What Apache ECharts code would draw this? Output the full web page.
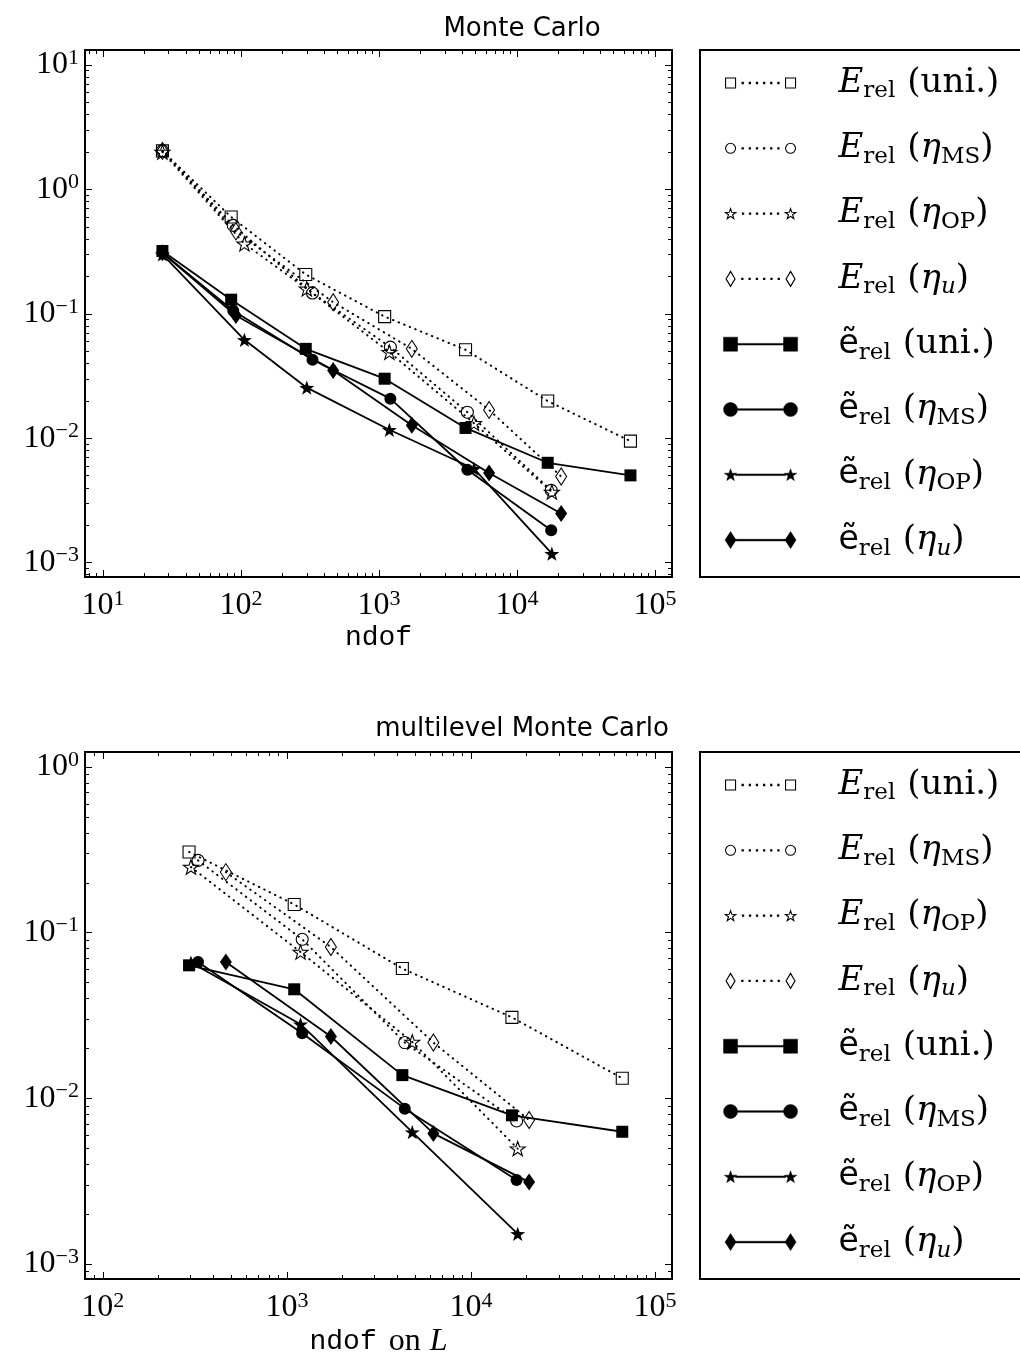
<!DOCTYPE html>
<html>
<head>
<meta charset="utf-8">
<title>Monte Carlo / multilevel Monte Carlo</title>
<script src="https://cdn.jsdelivr.net/npm/echarts@6/dist/echarts.min.js"></script>
<style>
  html, body { margin: 0; padding: 0; background: #fff; }
  #chart { width: 1020px; height: 1356px; }
</style>
</head>
<body>
<div id="chart"></div>
<script>
// ---------- Monte Carlo: ndof per refinement step ----------
const mcNdofUni = [27, 85, 295, 1100, 4240, 16700, 66400];
const mcNdofMS  = [27, 88, 330, 1210, 4370, 17700];
const mcNdofOP  = [27, 106, 300, 1190, 4880, 17900];
const mcNdofU   = [27, 92, 466, 1730, 6280, 20900];
// E_rel (dotted, open markers)
const mcEUni = [2.04, 0.60, 0.207, 0.095, 0.0514, 0.0199, 0.00948];
const mcEMS  = [2.04, 0.514, 0.147, 0.054, 0.0162, 0.00381];
const mcEOP  = [2.0, 0.366, 0.159, 0.0492, 0.0132, 0.0037];
const mcEU   = [2.04, 0.46, 0.124, 0.0523, 0.0169, 0.00493];
// e~_rel (solid, filled markers)
const mcTUni = [0.32, 0.130, 0.0523, 0.0301, 0.0121, 0.00635, 0.00503];
const mcTMS  = [0.31, 0.106, 0.0428, 0.0208, 0.00558, 0.00182];
const mcTOP  = [0.30, 0.0618, 0.0255, 0.0117, 0.00569, 0.00118];
const mcTU   = [0.31, 0.097, 0.0351, 0.0127, 0.00525, 0.00248];

// ---------- multilevel Monte Carlo: ndof on the finest level L ----------
const mlNdofUni = [294, 1096, 4240, 16700, 66400];
const mlNdofMS  = [329, 1211, 4370, 17700];
const mlNdofOP  = [301, 1186, 4800, 17950];
const mlNdofU   = [466, 1734, 6250, 20700];
const mlEUni = [0.307, 0.148, 0.0607, 0.0308, 0.0132];
const mlEMS  = [0.273, 0.0912, 0.0217, 0.0073];
const mlEOP  = [0.249, 0.0764, 0.0219, 0.00497];
const mlEU   = [0.232, 0.0819, 0.0217, 0.0074];
const mlTUni = [0.0635, 0.0455, 0.0138, 0.00789, 0.00628];
const mlTMS  = [0.0665, 0.0247, 0.00866, 0.00321];
const mlTOP  = [0.066, 0.028, 0.00625, 0.00152];
const mlTU   = [0.0665, 0.0236, 0.00614, 0.00312];

// ---------- axis ranges and major ticks ----------
const mcXRange = [7.42, 132800];
const mcYRange = [7.67e-4, 13.2];
const mlXRange = [80, 123700];
const mlYRange = [8.11e-4, 1.232];
const mcXTicks = [1e1, 1e2, 1e3, 1e4, 1e5];
const mcYTicks = [1e-3, 1e-2, 1e-1, 1e0, 1e1];
const mlXTicks = [1e2, 1e3, 1e4, 1e5];
const mlYTicks = [1e-3, 1e-2, 1e-1, 1e0];

// ---------- fonts ----------
const SERIF = '"Liberation Serif", "DejaVu Serif", serif';
const WIDE_SERIF = '"DejaVu Serif", "Liberation Serif", serif';
const SANS = '"DejaVu Sans", "Noto Sans", sans-serif';
const MONO = '"Liberation Mono", "DejaVu Sans Mono", monospace';

// 2..9 x 10^k inside a range (log minor ticks)
function minorValues(range) {
  const out = [];
  const k0 = Math.floor(Math.log10(range[0]));
  const k1 = Math.ceil(Math.log10(range[1]));
  for (let k = k0; k <= k1; k++) {
    for (let m = 2; m <= 9; m++) {
      const v = m * Math.pow(10, k);
      if (v >= range[0] && v <= range[1]) out.push(v);
    }
  }
  return out;
}

// "10^k" as rich text
function powLabel(v) {
  const k = Math.round(Math.log10(v));
  return '{b|10}{s|' + (k < 0 ? '\u2212' + (-k) : String(k)) + '}';
}
const tickRich = {
  b: { fontFamily: SERIF, fontSize: 32, lineHeight: 36, verticalAlign: 'middle', color: '#000' },
  s: { fontFamily: SERIF, fontSize: 22, lineHeight: 16, verticalAlign: 'top', color: '#000' }
};

function logAxis(gridIndex, position, range, values, len, labels, extra) {
  const isX = position === 'top' || position === 'bottom';
  return Object.assign({
    type: 'log', logBase: 10, gridIndex: gridIndex, position: position,
    min: range[0], max: range[1],
    axisLine: { show: false, onZero: false },
    splitLine: { show: false },
    minorTick: { show: false },
    minorSplitLine: { show: false },
    axisPointer: { show: false },
    silent: true,
    axisTick: { show: true, inside: true, length: len, customValues: values,
                lineStyle: { color: '#000', width: 1 } },
    axisLabel: labels ? {
      show: true, customValues: values, formatter: powLabel, rich: tickRich,
      margin: isX ? 11 : 6, color: '#000'
    } : { show: false }
  }, extra || {});
}

const xAxes = [];
const yAxes = [];
function addFrameAxes(g, xr, yr, xMaj, yMaj, nameOpts) {
  const xi = xAxes.length, yi = yAxes.length;
  xAxes.push(
    logAxis(g, 'bottom', xr, xMaj, 7, true, nameOpts),
    logAxis(g, 'bottom', xr, minorValues(xr), 4, false),
    logAxis(g, 'top', xr, xMaj, 7, false),
    logAxis(g, 'top', xr, minorValues(xr), 4, false)
  );
  yAxes.push(
    logAxis(g, 'left', yr, yMaj, 7, true),
    logAxis(g, 'left', yr, minorValues(yr), 4, false),
    logAxis(g, 'right', yr, yMaj, 7, false),
    logAxis(g, 'right', yr, minorValues(yr), 4, false)
  );
  return { xi: xi, yi: yi };
}

const mcAx = addFrameAxes(0, mcXRange, mcYRange, mcXTicks, mcYTicks, {
  name: 'ndof', nameLocation: 'middle', nameGap: 47,
  nameTextStyle: { fontFamily: MONO, fontSize: 28, color: '#000' }
});
const mlAx = addFrameAxes(1, mlXRange, mlYRange, mlXTicks, mlYTicks, {
  name: '{m|ndof}{r|on}{i|L}', nameLocation: 'middle', nameGap: 47,
  nameTextStyle: {
    color: '#000',
    rich: {
      m: { fontFamily: MONO, fontSize: 28, color: '#000' },
      r: { fontFamily: SERIF, fontSize: 32, color: '#000', padding: [0, 9, 0, 12] },
      i: { fontFamily: SERIF, fontSize: 32, fontStyle: 'italic', color: '#000' }
    }
  }
});

// ---------- markers ----------
function starPath(cx, cy, r) {
  let d = '';
  for (let i = 0; i < 10; i++) {
    const rr = i % 2 === 0 ? r : r * 0.4;
    const a = -Math.PI / 2 + i * Math.PI / 5;
    d += (i === 0 ? 'M' : 'L') + (cx + rr * Math.cos(a)).toFixed(2) + ' ' + (cy + rr * Math.sin(a)).toFixed(2);
  }
  return d + 'Z';
}
const STAR = 'path://' + starPath(0, 0, 10);

const OPEN = { color: 'rgba(0,0,0,0)', borderColor: '#000', borderWidth: 1.1 };
const FILLED = { color: '#000', borderColor: '#000', borderWidth: 0 };
const DOTTED = { color: '#000', width: 2, type: [0.5, 5.5], cap: 'round' };
const SOLID = { color: '#000', width: 1.8, type: 'solid' };

const KINDS = [
  { key: 'Euni', symbol: 'rect', size: 12, item: OPEN, line: DOTTED },
  { key: 'EMS', symbol: 'circle', size: 12, item: OPEN, line: DOTTED },
  { key: 'EOP', symbol: STAR, size: 15, item: OPEN, line: DOTTED },
  { key: 'Eu', symbol: 'diamond', size: [11, 17], item: OPEN, line: DOTTED },
  { key: 'Tuni', symbol: 'rect', size: 12, item: FILLED, line: SOLID },
  { key: 'TMS', symbol: 'circle', size: 12, item: FILLED, line: SOLID },
  { key: 'TOP', symbol: STAR, size: 15, item: FILLED, line: SOLID },
  { key: 'Tu', symbol: 'diamond', size: [12, 17], item: FILLED, line: SOLID }
];

const mcData = {
  Euni: [mcNdofUni, mcEUni], EMS: [mcNdofMS, mcEMS], EOP: [mcNdofOP, mcEOP], Eu: [mcNdofU, mcEU],
  Tuni: [mcNdofUni, mcTUni], TMS: [mcNdofMS, mcTMS], TOP: [mcNdofOP, mcTOP], Tu: [mcNdofU, mcTU]
};
const mlData = {
  Euni: [mlNdofUni, mlEUni], EMS: [mlNdofMS, mlEMS], EOP: [mlNdofOP, mlEOP], Eu: [mlNdofU, mlEU],
  Tuni: [mlNdofUni, mlTUni], TMS: [mlNdofMS, mlTMS], TOP: [mlNdofOP, mlTOP], Tu: [mlNdofU, mlTU]
};

const series = [];
function addSeries(prefix, table, ax) {
  KINDS.forEach(function (k) {
    const xs = table[k.key][0], ys = table[k.key][1];
    series.push({
      type: 'line', name: prefix + ':' + k.key,
      xAxisIndex: ax.xi, yAxisIndex: ax.yi,
      data: xs.map(function (x, i) { return [x, ys[i]]; }),
      symbol: k.symbol, symbolSize: k.size, symbolKeepAspect: true,
      showSymbol: true, showAllSymbol: true,
      itemStyle: k.item, lineStyle: k.line,
      emphasis: { disabled: true }, silent: true, animation: false
    });
  });
}
addSeries('mc', mcData, mcAx);
addSeries('ml', mlData, mlAx);

// ---------- legend (two markers joined by the series line) ----------
const ANCHOR = 'M0 0M76 18';
function sq(cx, cy, h) { return 'M' + (cx - h) + ' ' + (cy - h) + 'H' + (cx + h) + 'V' + (cy + h) + 'H' + (cx - h) + 'Z'; }
function circ(cx, cy, r) { return 'M' + (cx + r) + ' ' + cy + 'A' + r + ' ' + r + ' 0 1 1 ' + (cx - r) + ' ' + cy + 'A' + r + ' ' + r + ' 0 1 1 ' + (cx + r) + ' ' + cy + 'Z'; }
function dia(cx, cy, w, h) { return 'M' + cx + ' ' + (cy - h / 2) + 'L' + (cx + w / 2) + ' ' + cy + 'L' + cx + ' ' + (cy + h / 2) + 'L' + (cx - w / 2) + ' ' + cy + 'Z'; }
function dots(x0, x1, cy) {
  let d = '';
  const n = 6, step = (x1 - x0) / (n + 1);
  for (let i = 1; i <= n; i++) d += sq(+(x0 + i * step).toFixed(2), cy, 0.6);
  return d;
}
function bar(x0, x1, cy, t) { return 'M' + x0 + ' ' + (cy - t / 2) + 'H' + x1 + 'V' + (cy + t / 2) + 'H' + x0 + 'Z'; }
const ICONS = {
  Euni: ANCHOR + sq(8, 9, 5) + dots(13, 63, 9) + sq(68, 9, 5),
  EMS: ANCHOR + circ(8, 9, 5) + dots(13, 63, 9) + circ(68, 9, 5),
  EOP: ANCHOR + starPath(8, 9.5, 5.5) + dots(13.5, 62.5, 9) + starPath(68, 9.5, 5.5),
  Eu: ANCHOR + dia(8, 9, 9, 15) + dots(12.5, 63.5, 9) + dia(68, 9, 9, 15),
  Tuni: ANCHOR + sq(8, 9, 7) + bar(15, 61, 9, 1.6) + sq(68, 9, 7),
  TMS: ANCHOR + circ(8, 9, 7) + bar(15, 61, 9, 1.6) + circ(68, 9, 7),
  TOP: ANCHOR + starPath(8, 9.5, 6.5) + bar(13, 63, 9, 1.6) + starPath(68, 9.5, 6.5),
  Tu: ANCHOR + dia(8, 9, 11, 17) + bar(13, 63, 9, 1.6) + dia(68, 9, 11, 17)
};
const LABELS = {
  Euni: '{E|E}{s|rel}{p|(uni.)}',
  EMS: '{E|E}{s|rel}{p|(}{g|\u03b7}{s|MS}{q|)}',
  EOP: '{E|E}{s|rel}{p|(}{g|\u03b7}{s|OP}{q|)}',
  Eu: '{E|E}{s|rel}{p|(}{g|\u03b7}{si|u}{q|)}',
  Tuni: '{e|\u1ebd}{s|rel}{p|(uni.)}',
  TMS: '{e|\u1ebd}{s|rel}{p|(}{g|\u03b7}{s|MS}{q|)}',
  TOP: '{e|\u1ebd}{s|rel}{p|(}{g|\u03b7}{s|OP}{q|)}',
  Tu: '{e|\u1ebd}{s|rel}{p|(}{g|\u03b7}{si|u}{q|)}'
};
const legendRich = {
  E: { fontFamily: WIDE_SERIF, fontStyle: 'italic', fontSize: 34, lineHeight: 40, padding: [0, 0, 0, 35], color: '#000' },
  e: { fontFamily: SANS, fontSize: 33, lineHeight: 40, padding: [0, 0, 0, 35], color: '#000' },
  s: { fontFamily: WIDE_SERIF, fontSize: 23, lineHeight: 19, verticalAlign: 'bottom', color: '#000' },
  si: { fontFamily: WIDE_SERIF, fontStyle: 'italic', fontSize: 23, lineHeight: 19, verticalAlign: 'bottom', color: '#000' },
  p: { fontFamily: WIDE_SERIF, fontSize: 34, lineHeight: 40, padding: [0, 0, 0, 12], color: '#000' },
  g: { fontFamily: WIDE_SERIF, fontStyle: 'italic', fontSize: 34, lineHeight: 40, color: '#000' },
  q: { fontFamily: WIDE_SERIF, fontSize: 34, lineHeight: 40, color: '#000' }
};
function makeLegend(prefix, top) {
  return {
    show: true, orient: 'vertical', left: 700, top: top,
    itemWidth: 76, itemHeight: 18, itemGap: 28.3,
    padding: [16, 160, 17, 22],
    borderColor: '#000', borderWidth: 2, backgroundColor: '#fff',
    selectedMode: false, symbolKeepAspect: true,
    data: KINDS.map(function (k) {
      return {
        name: prefix + ':' + k.key, icon: 'path://' + ICONS[k.key],
        itemStyle: k.item === OPEN
          ? { color: 'rgba(0,0,0,0)', borderColor: '#000', borderWidth: 1.1 }
          : { color: '#000', borderColor: '#000', borderWidth: 0.5 }
      };
    }),
    formatter: function (name) { return LABELS[name.split(':')[1]]; },
    textStyle: { color: '#000', rich: legendRich }
  };
}

const option = {
  backgroundColor: '#fff',
  animation: false,
  grid: [
    { left: 85, top: 50, width: 587, height: 527, show: true, borderColor: '#000', borderWidth: 2,
      backgroundColor: 'rgba(0,0,0,0)', containLabel: false, outerBoundsMode: 'none' },
    { left: 85, top: 752, width: 587, height: 527, show: true, borderColor: '#000', borderWidth: 2,
      backgroundColor: 'rgba(0,0,0,0)', containLabel: false, outerBoundsMode: 'none' }
  ],
  xAxis: xAxes,
  yAxis: yAxes,
  legend: [makeLegend('mc', 50), makeLegend('ml', 752)],
  graphic: [
    { type: 'text', x: 522, y: 29, silent: true,
      style: { text: 'Monte Carlo', fontFamily: SANS, fontSize: 26, fill: '#000', align: 'center', verticalAlign: 'middle' } },
    { type: 'text', x: 522, y: 729, silent: true,
      style: { text: 'multilevel Monte Carlo', fontFamily: SANS, fontSize: 26, fill: '#000', align: 'center', verticalAlign: 'middle' } }
  ],
  series: series
};

const chart = echarts.init(document.getElementById('chart'), null, { renderer: 'canvas' });
chart.setOption(option);
</script>
</body>
</html>
